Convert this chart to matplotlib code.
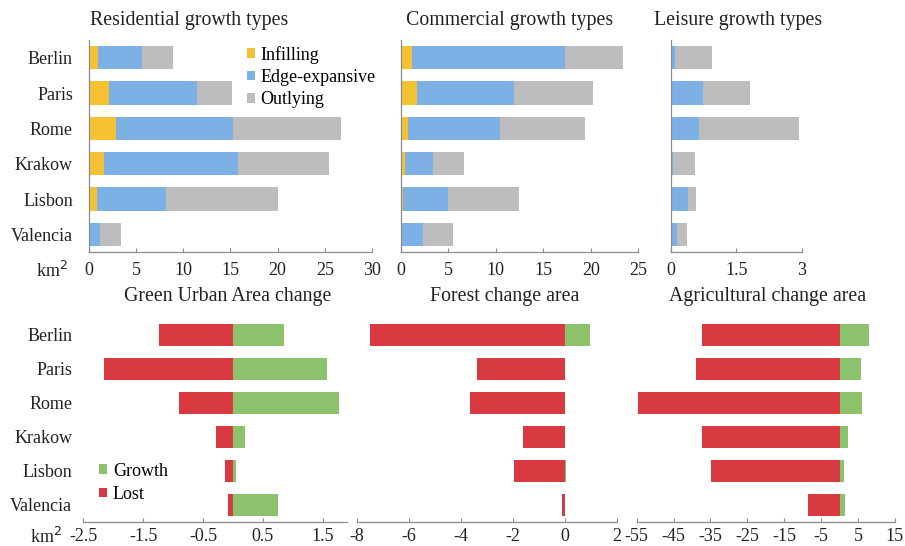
import numpy as np
import matplotlib.pyplot as plt

plt.rcParams['font.family'] = ['Liberation Serif', 'DejaVu Serif']

cities = ['Berlin', 'Paris', 'Rome', 'Krakow', 'Lisbon', 'Valencia']

# growth types, km2 (infilling, edge-expansive, outlying)
res_infill = [0.95, 2.15, 2.9, 1.6, 0.8, 0.1]
res_edge = [4.65, 9.35, 12.4, 14.2, 7.4, 1.1]
res_outly = [3.3, 3.7, 11.4, 9.6, 11.8, 2.15]

com_infill = [1.2, 1.7, 0.8, 0.45, 0.2, 0.1]
com_edge = [16.1, 10.2, 9.6, 2.9, 4.8, 2.2]
com_outly = [6.1, 8.3, 9.0, 3.35, 7.4, 3.2]

lei_infill = [0.02, 0.03, 0.0, 0.0, 0.0, 0.0]
lei_edge = [0.08, 0.7, 0.65, 0.06, 0.4, 0.14]
lei_outly = [0.85, 1.08, 2.29, 0.49, 0.19, 0.23]

# land cover change, km2
gua_growth = [0.86, 1.57, 1.78, 0.21, 0.055, 0.76]
gua_lost = [-1.23, -2.15, -0.9, -0.28, -0.13, -0.09]

forest_growth = [0.96, 0.0, 0.03, 0.0, 0.05, 0.0]
forest_lost = [-7.47, -3.35, -3.65, -1.59, -1.96, -0.08]

agri_growth = [7.9, 5.75, 6.0, 2.4, 1.3, 1.45]
agri_lost = [-37.3, -38.9, -54.7, -37.3, -34.9, -8.6]

c_infill = '#F4C232'
c_edge = '#7DB1E6'
c_outly = '#BDBDBD'
c_growth = '#8DC26C'
c_lost = '#D93A42'
axis_col = '#8C8C8C'
txt_col = '#222222'

fig = plt.figure(figsize=(9.05, 5.46), dpi=100)
y = np.arange(len(cities))
bh = 0.66


def style(ax, xlim, ticks, labels, show_left, pad):
    ax.set_xlim(*xlim)
    ax.set_ylim(len(cities) - 0.5, -0.5)
    ax.set_xticks(ticks)
    ax.set_xticklabels(labels)
    for s in ['top', 'right']:
        ax.spines[s].set_visible(False)
    ax.spines['left'].set_visible(show_left)
    for s in ['left', 'bottom']:
        ax.spines[s].set_color(axis_col)
        ax.spines[s].set_linewidth(0.9)
    ax.tick_params(axis='x', direction='in', length=3, color=axis_col,
                   labelsize=13, pad=pad, labelcolor=txt_col)
    ax.tick_params(axis='y', length=0, labelsize=13, labelcolor=txt_col)


def stacked(ax, a, b, c):
    a = np.array(a)
    b = np.array(b)
    c = np.array(c)
    ax.barh(y, a, height=bh, color=c_infill, label='Infilling')
    ax.barh(y, b, left=a, height=bh, color=c_edge, label='Edge-expansive')
    ax.barh(y, c, left=a + b, height=bh, color=c_outly, label='Outlying')


def diverging(ax, growth, lost):
    ax.barh(y, growth, height=bh, color=c_growth, label='Growth')
    ax.barh(y, lost, height=bh, color=c_lost, label='Lost')


leg_kw = dict(frameon=False, fontsize=13, handlelength=0.45, handleheight=0.45,
              handletextpad=0.3, borderaxespad=0.2)

# top row
ax1 = fig.add_axes([0.0983, 0.5385, 0.3127, 0.388])
stacked(ax1, res_infill, res_edge, res_outly)
style(ax1, (0, 30), np.arange(0, 31, 5), [str(v) for v in range(0, 31, 5)], True, 7.5)
ax1.set_yticks(y)
ax1.set_yticklabels(cities)
ax1.tick_params(axis='y', pad=11.5)
ax1.legend(loc='upper left', bbox_to_anchor=(0.52, 1.025), labelspacing=0.3, **leg_kw)

ax2 = fig.add_axes([0.4428, 0.5385, 0.2625, 0.388])
stacked(ax2, com_infill, com_edge, com_outly)
style(ax2, (0, 25), np.arange(0, 26, 5), [str(v) for v in range(0, 26, 5)], True, 7.5)
ax2.set_yticks([])

ax3 = fig.add_axes([0.7411, 0.5385, 0.1448, 0.388])
stacked(ax3, lei_infill, lei_edge, lei_outly)
style(ax3, (0, 3), [0, 1.5, 3], ['0', '1.5', '3'], True, 7.5)
ax3.set_yticks([])

# bottom row
ax4 = fig.add_axes([0.092, 0.044, 0.291, 0.3736])
diverging(ax4, gua_growth, gua_lost)
style(ax4, (-2.5, 1.9), [-2.5, -1.5, -0.5, 0.5, 1.5],
      ['-2.5', '-1.5', '-0.5', '0.5', '1.5'], False, 4)
ax4.set_yticks(y)
ax4.set_yticklabels(cities)
ax4.tick_params(axis='y', pad=8)
ax4.legend(loc='lower left', bbox_to_anchor=(0.02, 0.04), labelspacing=0.35, **leg_kw)

ax5 = fig.add_axes([0.394, 0.044, 0.2873, 0.3736])
diverging(ax5, forest_growth, forest_lost)
style(ax5, (-8, 2), np.arange(-8, 3, 2), [str(v) for v in range(-8, 3, 2)], False, 4)
ax5.set_yticks([])

ax6 = fig.add_axes([0.7035, 0.044, 0.2854, 0.3736])
diverging(ax6, agri_growth, agri_lost)
style(ax6, (-55, 15), np.arange(-55, 16, 10), [str(v) for v in range(-55, 16, 10)], False, 4)
ax6.set_yticks([])

# panel titles
title_kw = dict(fontsize=14.3, color=txt_col, ha='center', va='center')
fig.text(189 / 905, 1 - 20 / 546, 'Residential growth types', **title_kw)
fig.text(510 / 905, 1 - 20 / 546, 'Commercial growth types', **title_kw)
fig.text(738 / 905, 1 - 20 / 546, 'Leisure growth types', **title_kw)
fig.text(228 / 905, 1 - 297 / 546, 'Green Urban Area change', **title_kw)
fig.text(505 / 905, 1 - 297 / 546, 'Forest change area', **title_kw)
fig.text(768 / 905, 1 - 297 / 546, 'Agricultural change area', **title_kw)

# units
fig.text(52 / 905, 1 - 271 / 546, 'km$^2$', fontsize=13, ha='center', va='center', color=txt_col)
fig.text(46 / 905, 1 - 537 / 546, 'km$^2$', fontsize=13, ha='center', va='center', color=txt_col)

fig.savefig('out.png', dpi=100)
